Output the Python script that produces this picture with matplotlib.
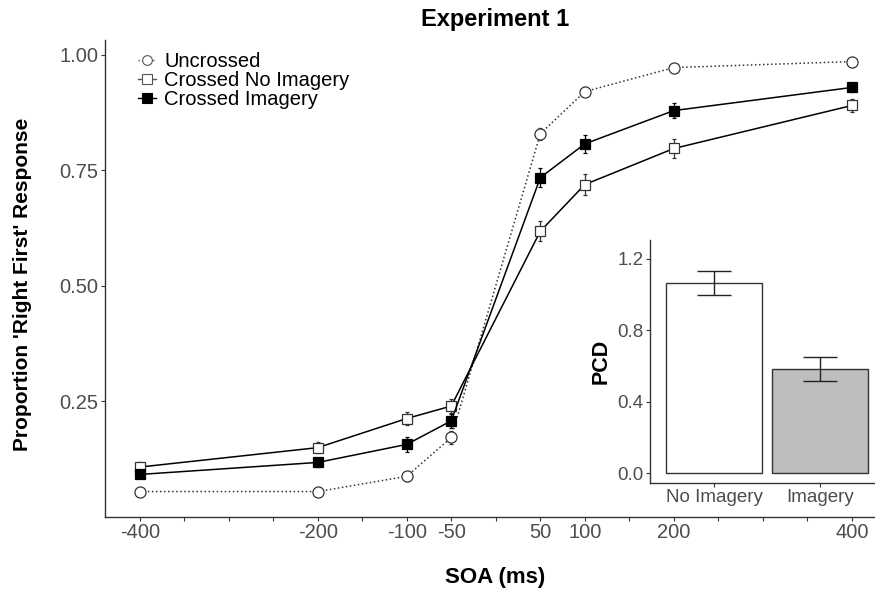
import matplotlib
matplotlib.use('Agg')
import matplotlib.pyplot as plt
import numpy as np
from matplotlib.lines import Line2D

plt.rcParams['font.family'] = ['Liberation Sans', 'DejaVu Sans']

# データ
soa = [-400, -200, -100, -50, 50, 100, 200, 400]
xtick_vals = [-400, -200, -100, -50, 50, 100, 200, 400]
xtick_labels = ['-400', '-200', '-100', '-50', '50', '100', '200', '400']

uncrossed = [0.055, 0.055, 0.088, 0.172, 0.829, 0.920, 0.972, 0.985]
uncrossed_err = [0.008, 0.005, 0.010, 0.015, 0.013, 0.010, 0.006, 0.005]

no_imagery = [0.108, 0.150, 0.213, 0.240, 0.618, 0.719, 0.797, 0.890]
no_imagery_err = [0.010, 0.012, 0.015, 0.016, 0.022, 0.022, 0.020, 0.014]

imagery = [0.092, 0.118, 0.157, 0.208, 0.734, 0.807, 0.879, 0.929]
imagery_err = [0.008, 0.010, 0.017, 0.015, 0.020, 0.019, 0.017, 0.010]

pcd_groups = ['No Imagery', 'Imagery']
pcd_vals = [1.065, 0.583]
pcd_err = [0.066, 0.065]

grey_txt = '#4d4d4d'
spine_c = '#333333'

fig = plt.figure(figsize=(8.75, 5.92), dpi=100)

# メインのグラフ
ax = fig.add_axes([0.12, 0.1267, 0.88, 0.806])

ax.errorbar(soa, uncrossed, yerr=uncrossed_err, color='#333333', ls=':', lw=1.1,
            marker='o', ms=8, mfc='white', mec='#333333', mew=0.9,
            elinewidth=0.9, capsize=1.5, zorder=3)
ax.errorbar(soa, no_imagery, yerr=no_imagery_err, color='black', ls='-', lw=1.1,
            marker='s', ms=7.5, mfc='white', mec='#333333', mew=0.9,
            elinewidth=0.9, capsize=1.5, ecolor='#333333', zorder=4)
ax.errorbar(soa, imagery, yerr=imagery_err, color='black', ls='-', lw=1.1,
            marker='s', ms=7.5, mfc='black', mec='black', mew=0.9,
            elinewidth=0.9, capsize=1.5, zorder=5)

ax.set_xlim(-439, 426)
ax.set_ylim(0.0, 1.032)
ax.set_xticks(xtick_vals)
ax.set_xticklabels(xtick_labels)
ax.set_xticks([v for v in np.arange(-400, 401, 50) if v not in xtick_vals], minor=True)
ax.set_yticks([0.25, 0.5, 0.75, 1.0])
ax.set_yticklabels(['0.25', '0.50', '0.75', '1.00'])
ax.tick_params(which='both', length=2.8, width=0.8, color=spine_c,
               labelsize=14.5, labelcolor=grey_txt, pad=1.8)
for s in ['top', 'right']:
    ax.spines[s].set_visible(False)
for s in ['left', 'bottom']:
    ax.spines[s].set_color(spine_c)
    ax.spines[s].set_linewidth(1.0)

fig.text(0.566, 0.024, 'SOA (ms)', ha='center', va='center',
         fontsize=16, fontweight='bold')
fig.text(0.026, 0.52, "Proportion 'Right First' Response", ha='center',
         va='center', rotation=90, fontsize=15, fontweight='bold')
fig.text(0.566, 0.967, 'Experiment 1', ha='center', va='center',
         fontsize=17, fontweight='bold')

handles = [
    Line2D([], [], color='#555555', ls=':', lw=1, marker='o', ms=7,
           mfc='white', mec='#555555', mew=0.8),
    Line2D([], [], color='#555555', ls='-', lw=1, marker='s', ms=7,
           mfc='white', mec='#555555', mew=0.8),
    Line2D([], [], color='black', ls='-', lw=1, marker='s', ms=7,
           mfc='black', mec='black', mew=0.8),
]
ax.legend(handles, ['Uncrossed', 'Crossed No Imagery', 'Crossed Imagery'],
          loc='upper left', bbox_to_anchor=(0.158, 0.912),
          bbox_transform=fig.transFigure, frameon=False, fontsize=14.5,
          handlelength=0.9, handletextpad=0.4, labelspacing=0.0,
          borderaxespad=0, borderpad=0)

# 挿入図
ax2 = fig.add_axes([0.743, 0.184, 0.257, 0.4105])
ax2.set_facecolor('white')
pos = np.arange(1, len(pcd_groups) + 1)
ax2.bar(pos, pcd_vals, width=0.9, color=['white', '#bebebe'],
        edgecolor='#333333', linewidth=1.0)
ax2.errorbar(pos, pcd_vals, yerr=pcd_err, fmt='none', ecolor='#222222',
             elinewidth=1.0, capsize=12, capthick=1.0)
ax2.set_xlim(0.396, 2.52)
ax2.set_ylim(-0.056, 1.306)
ax2.set_xticks(pos)
ax2.set_xticklabels(pcd_groups)
ax2.set_yticks([0.0, 0.4, 0.8, 1.2])
ax2.set_yticklabels(['0.0', '0.4', '0.8', '1.2'])
ax2.tick_params(length=2.8, width=0.8, color=spine_c, labelsize=13.5,
                labelcolor=grey_txt, pad=1.8)
ax2.set_ylabel('PCD', fontsize=15.5, fontweight='bold', labelpad=4)
for s in ['top', 'right']:
    ax2.spines[s].set_visible(False)
for s in ['left', 'bottom']:
    ax2.spines[s].set_color(spine_c)
    ax2.spines[s].set_linewidth(1.0)

fig.savefig('out.png', dpi=100)
